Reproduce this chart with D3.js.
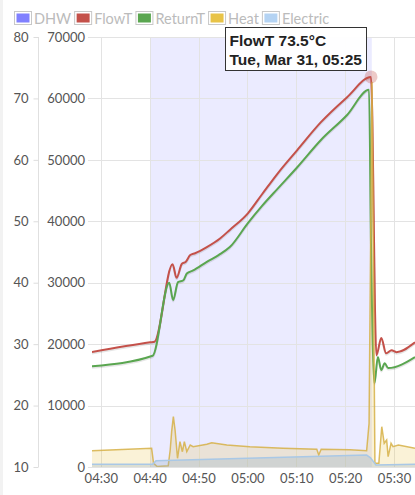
<!DOCTYPE html>
<html lang="en">
<head>
    <meta charset="utf-8">
    <title>Heat pump chart</title>
    <style>
        body { margin: 0; background: #fff; }
        text { font-family: Lato, "Noto Sans", sans-serif; }
    </style>
</head>
<body>
<script src="https://cdn.jsdelivr.net/npm/d3@7"></script>
<script>
    // series data, times on Tue 31 Mar
    var flowTimes = ["04:28:12", "04:40:06", "04:41:00", "04:44:42", "04:45:30", "04:46:36", "04:47:24", "04:48:18",
        "04:49:18", "04:51:42", "04:54:24", "04:56:24", "05:00:06", "05:03:00", "05:06:18", "05:10:12", "05:15:00",
        "05:20:24", "05:25:18", "05:26:24", "05:27:24", "05:28:24", "05:29:30", "05:30:30", "05:34:18"];
    var flowValues = [28.7, 30.3, 30.4, 43.0, 40.8, 43.1, 43.4, 44.5,
        44.8, 45.8, 47.2, 48.6, 51.3, 54.4, 57.9, 61.6, 66.1,
        70.2, 73.5, 28.2, 31.0, 28.5, 29.0, 28.7, 30.3];

    var returnTimes = ["04:28:12", "04:40:36", "04:44:00", "04:44:48", "04:45:48", "04:46:54", "04:47:36", "04:48:54",
        "04:51:42", "04:54:06", "04:56:24", "05:00:06", "05:03:00", "05:06:18", "05:10:12", "05:15:00", "05:20:24",
        "05:24:54", "05:25:18", "05:26:00", "05:26:42", "05:27:24", "05:28:06", "05:28:48", "05:34:18"];
    var returnValues = [26.4, 28.1, 40.0, 37.2, 40.1, 40.4, 41.5, 42.0,
        43.4, 44.5, 45.8, 49.7, 52.5, 55.4, 58.8, 63.2, 67.3,
        71.4, 46.0, 23.6, 27.9, 25.8, 26.9, 26.1, 27.9];

    var heatTimes = ["04:28:12", "04:40:24", "04:40:48", "04:41:30", "04:43:48", "04:44:12", "04:44:30", "04:44:51",
        "04:45:12", "04:45:42", "04:46:12", "04:46:42", "04:47:06", "04:47:36", "04:48:18", "04:48:54", "04:51:42",
        "04:52:42", "04:55:48", "05:00:30", "05:07:18", "05:14:12", "05:14:36", "05:15:06", "05:21:00", "05:24:24",
        "05:24:54", "05:25:30", "05:26:06", "05:26:54", "05:27:30", "05:28:00", "05:28:30", "05:28:48", "05:29:24",
        "05:29:48", "05:30:54", "05:34:18"];
    var heatValues = [2650, 3040, 600, 100, 200, 2770, 5750, 8200,
        6030, 1420, 4120, 2490, 4120, 2490, 3580, 3300, 3690,
        3960, 3580, 3310, 3040, 2880, 1950, 2880, 2820, 2650,
        7100, 62700, 600, 600, 6560, 3860, 4400, 1680, 3860,
        3310, 3580, 3040];

    var elecTimes = ["04:28:12", "04:40:36", "04:41:18", "05:24:24", "05:25:12", "05:26:18", "05:34:18"];
    var elecValues = [440, 440, 1000, 1950, 1500, 330, 440];

    var dhwTimes = ["04:28:12", "04:40:12", "05:25:27", "05:34:18"];
    var dhwValues = [0, 1, 0, 0];

    var tempTicks = [10, 20, 30, 40, 50, 60, 70, 80];
    var powerTicks = [0, 10000, 20000, 30000, 40000, 50000, 60000, 70000];
    var timeTicks = ["04:30", "04:40", "04:50", "05:00", "05:10", "05:20", "05:30"];

    var legendNames = ["DHW", "FlowT", "ReturnT", "Heat", "Electric"];
    var legendColors = ["#8080ff", "#c4514a", "#5aa650", "#e8c347", "#b4d3f3"];

    var parse = d3.timeParse("%Y-%m-%d %H:%M:%S");
    function t(s) { return parse("2026-03-31 " + (s.length == 5 ? s + ":00" : s)); }
    function zip(times, values) {
        return times.map(function(s, i) { return {t: t(s), v: values[i]}; });
    }

    var W = 415, H = 495;
    var pL = 92, pR = 415, pT = 37, pB = 467;

    var x = d3.scaleTime()
        .domain([t("04:28:12"), t("05:34:18")])
        .range([pL, pR]);
    var yT = d3.scaleLinear().domain([10, 80]).range([pB, pT]);
    var yP = d3.scaleLinear().domain([0, 70000]).range([pB, pT]);

    var svg = d3.select("body").append("svg")
        .attr("width", W)
        .attr("height", H);

    svg.append("rect").attr("width", 3).attr("height", H).attr("fill", "#f2f2f2");

    svg.append("clipPath").attr("id", "plot")
        .append("rect").attr("x", pL).attr("y", 0).attr("width", pR - pL).attr("height", pB);

    // DHW shading
    svg.append("path")
        .datum(zip(dhwTimes, dhwValues))
        .attr("fill", "rgba(128,128,255,0.16)")
        .attr("d", d3.area().curve(d3.curveStepAfter)
            .x(function(d) { return x(d.t); })
            .y0(pB)
            .y1(function(d) { return d.v ? pT : pB; }));

    // grid
    var grid = svg.append("g").attr("stroke", "#e3e3e3").attr("stroke-width", 1);
    grid.selectAll(".h").data(tempTicks).enter().append("line")
        .attr("x1", pL - 4).attr("x2", pR)
        .attr("y1", function(d) { return Math.round(yT(d)) + 0.5; })
        .attr("y2", function(d) { return Math.round(yT(d)) + 0.5; });
    grid.selectAll(".v").data(timeTicks).enter().append("line")
        .attr("y1", pT).attr("y2", pB)
        .attr("x1", function(d) { return Math.round(x(t(d))) + 0.5; })
        .attr("x2", function(d) { return Math.round(x(t(d))) + 0.5; });

    // left temperature axis
    var ax = svg.append("g").attr("transform", "translate(38.5,0)")
        .call(d3.axisLeft(yT).tickValues(tempTicks).tickSize(5).tickPadding(5));
    ax.select(".domain").attr("stroke", "#e0e0e0").attr("d", "M0," + pT + "V" + pB);
    ax.selectAll(".tick line").attr("stroke", "#ddd");
    ax.selectAll("text").attr("fill", "#555").style("font-size", "13px").style("font-family", "Lato");

    // power axis labels
    var ap = svg.append("g").attr("transform", "translate(" + (pL - 4) + ",0)")
        .call(d3.axisLeft(yP).tickValues(powerTicks).tickSize(0).tickPadding(3).tickFormat(d3.format("d")));
    ap.select(".domain").remove();
    ap.selectAll("text").attr("fill", "#555").style("font-size", "13px").style("font-family", "Lato");

    // time axis
    var at = svg.append("g").attr("transform", "translate(0," + pB + ")")
        .call(d3.axisBottom(x).tickValues(timeTicks.map(t)).tickSize(0).tickPadding(7).tickFormat(d3.timeFormat("%H:%M")));
    at.select(".domain").remove();
    at.selectAll("text").attr("fill", "#555").style("font-size", "13px").style("font-family", "Lato");

    var plot = svg.append("g").attr("clip-path", "url(#plot)");

    var lineT = d3.line().curve(d3.curveMonotoneX)
        .x(function(d) { return x(d.t); }).y(function(d) { return yT(d.v); });
    var lineP = d3.line().x(function(d) { return x(d.t); }).y(function(d) { return yP(d.v); });
    var areaP = d3.area().x(function(d) { return x(d.t); }).y0(pB).y1(function(d) { return yP(d.v); });

    var flow = zip(flowTimes, flowValues);
    var ret = zip(returnTimes, returnValues);
    var heat = zip(heatTimes, heatValues);
    var elec = zip(elecTimes, elecValues);

    // soft shadow under temperature lines
    [flow, ret].forEach(function(s) {
        plot.append("path").datum(s)
            .attr("fill", "none").attr("stroke", "rgba(0,0,0,0.1)").attr("stroke-width", 2)
            .attr("transform", "translate(0,1.5)")
            .attr("d", lineT);
    });
    plot.append("path").datum(flow)
        .attr("fill", "none").attr("stroke", legendColors[1]).attr("stroke-width", 2)
        .attr("stroke-linejoin", "round").attr("d", lineT);
    plot.append("path").datum(ret)
        .attr("fill", "none").attr("stroke", legendColors[2]).attr("stroke-width", 2)
        .attr("stroke-linejoin", "round").attr("d", lineT);

    plot.append("path").datum(heat)
        .attr("fill", "rgba(232,195,71,0.22)").attr("d", areaP);
    plot.append("path").datum(heat)
        .attr("fill", "none").attr("stroke", "rgba(214,176,70,0.85)").attr("stroke-width", 1.5)
        .attr("d", lineP);

    plot.append("path").datum(elec)
        .attr("fill", "rgba(150,175,200,0.3)").attr("d", areaP);
    plot.append("path").datum(elec)
        .attr("fill", "none").attr("stroke", "#a9c8e6").attr("stroke-width", 1.5)
        .attr("d", lineP);

    // hovered point
    var peak = flow[d3.maxIndex(flow, function(d) { return d.v; })];
    svg.append("circle")
        .attr("cx", x(peak.t)).attr("cy", yT(peak.v)).attr("r", 6.5)
        .attr("fill", "rgba(196,81,74,0.3)");

    // tooltip
    var tip = svg.append("g").attr("transform", "translate(225.5,27.5)");
    tip.append("rect").attr("width", 141).attr("height", 43)
        .attr("fill", "rgba(255,255,255,0.95)").attr("stroke", "#333").attr("stroke-width", 1);
    tip.append("text").attr("x", 4).attr("y", 18)
        .style("font-family", "'Liberation Sans', Arial, sans-serif").style("font-weight", "bold")
        .style("font-size", "15.5px").attr("fill", "#222")
        .text("FlowT " + peak.v.toFixed(1) + "°C");
    tip.append("text").attr("x", 4).attr("y", 37)
        .style("font-family", "'Liberation Sans', Arial, sans-serif").style("font-weight", "bold")
        .style("font-size", "15.5px").attr("fill", "#222")
        .text(d3.timeFormat("%a, %b %-d, %H:%M")(peak.t));

    // legend
    var lx = 14;
    legendNames.forEach(function(name, i) {
        var g = svg.append("g").attr("transform", "translate(" + lx + ",11)");
        g.append("rect").attr("x", 0.5).attr("y", 0.5).attr("width", 17).attr("height", 13)
            .attr("fill", "#fff").attr("stroke", "#c8c8c8");
        g.append("rect").attr("x", 2.5).attr("y", 2.5).attr("width", 13).attr("height", 9)
            .attr("fill", legendColors[i]);
        var txt = g.append("text").attr("x", 20).attr("y", 12.5)
            .attr("fill", "#bbb").style("font-size", "14.5px")
            .text(name);
        lx += 20 + txt.node().getComputedTextLength() + 3;
    });
</script>
</body>
</html>
